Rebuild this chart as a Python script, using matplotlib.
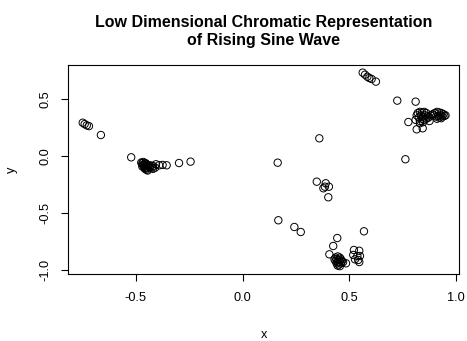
import matplotlib
matplotlib.use("Agg")
import matplotlib.pyplot as plt
import numpy as np

plt.rcParams['font.family'] = ['Liberation Sans', 'DejaVu Sans']

# Points (x, y)
x_vals = [
    # upper-left group
    -0.749, -0.740, -0.730, -0.720, -0.664,
    # left cluster outliers
    -0.522,
    # left dense cluster
    -0.475, -0.470, -0.465, -0.460, -0.455, -0.450, -0.468, -0.460, -0.452, -0.445,
    -0.440, -0.470, -0.462, -0.455, -0.448, -0.458, -0.450, -0.445, -0.435, -0.430,
    -0.425, -0.420,
    # left trail
    -0.406, -0.391, -0.375, -0.356, -0.410, -0.420, -0.298, -0.244,
    # top group
    0.562, 0.573, 0.584, 0.593, 0.604, 0.624,
    # right scattered
    0.724, 0.810, 0.776, 0.815, 0.843,
    # right dense cluster 1
    0.820, 0.830, 0.840, 0.850, 0.860, 0.835, 0.845, 0.855, 0.865, 0.825, 0.840,
    0.850, 0.860, 0.870, 0.830, 0.845, 0.875, 0.880, 0.815, 0.810, 0.830,
    # right dense cluster 2
    0.900, 0.910, 0.920, 0.930, 0.940, 0.945, 0.935, 0.925, 0.915, 0.905, 0.895,
    0.920, 0.930, 0.910, 0.890, 0.950,
    # middle scattered
    0.359, 0.164, 0.762,
    # middle small cluster
    0.347, 0.389, 0.404, 0.378, 0.385, 0.401,
    # lower scattered
    0.167, 0.242, 0.272, 0.568, 0.443, 0.424, 0.406, 0.484,
    # bottom right sub-cluster
    0.521, 0.546, 0.518, 0.537, 0.549, 0.526, 0.541, 0.546,
    # bottom dense cluster
    0.435, 0.445, 0.455, 0.440, 0.450, 0.460, 0.435, 0.445, 0.455, 0.465, 0.440,
    0.450, 0.460, 0.445, 0.455, 0.470, 0.430,
]
y_vals = [
    0.295, 0.283, 0.272, 0.265, 0.187,
    -0.009,
    -0.055, -0.060, -0.050, -0.065, -0.060, -0.070, -0.075, -0.080, -0.085, -0.075,
    -0.090, -0.090, -0.095, -0.100, -0.105, -0.110, -0.118, -0.125, -0.095, -0.080,
    -0.100, -0.085,
    -0.070, -0.079, -0.076, -0.079, -0.100, -0.110, -0.059, -0.047,
    0.735, 0.717, 0.699, 0.688, 0.679, 0.656,
    0.489, 0.480, 0.301, 0.237, 0.246,
    0.380, 0.390, 0.385, 0.390, 0.380, 0.360, 0.350, 0.360, 0.350, 0.340, 0.330,
    0.320, 0.330, 0.340, 0.310, 0.300, 0.310, 0.360, 0.360, 0.320, 0.290,
    0.380, 0.390, 0.385, 0.380, 0.370, 0.355, 0.350, 0.360, 0.355, 0.350, 0.360,
    0.340, 0.335, 0.330, 0.370, 0.360,
    0.158, -0.056, -0.026,
    -0.223, -0.237, -0.267, -0.281, -0.267, -0.360,
    -0.562, -0.621, -0.665, -0.659, -0.718, -0.788, -0.861, -0.940,
    -0.823, -0.830, -0.867, -0.876, -0.876, -0.905, -0.911, -0.929,
    -0.890, -0.880, -0.890, -0.905, -0.910, -0.905, -0.920, -0.930, -0.925, -0.920, -0.940,
    -0.950, -0.940, -0.960, -0.965, -0.930, -0.905,
]

x_ticks = [-0.5, 0.0, 0.5, 1.0]
y_ticks = [-1.0, -0.5, 0.0, 0.5]
title = "Low Dimensional Chromatic Representation\nof Rising Sine Wave"

W, H = 467, 341
fig = plt.figure(figsize=(W / 100, H / 100), dpi=100)
ax = fig.add_axes([68 / W, 1 - 274 / H, (459.3 - 68) / W, (274 - 65) / H])

ax.scatter(x_vals, y_vals, s=28, facecolors='none', edgecolors='black', linewidths=0.7)

ax.set_xlim(-0.818, 1.0145)
ax.set_ylim(-1.034, 0.802)
ax.set_xticks(x_ticks)
ax.set_xticklabels([f"{t:.1f}" for t in x_ticks])
ax.set_yticks(y_ticks)
ax.set_yticklabels([f"{t:.1f}" for t in y_ticks], rotation=90, va='center')

for s in ax.spines.values():
    s.set_linewidth(0.8)
    s.set_color('black')

ax.tick_params(axis='both', direction='out', length=5, width=0.8, labelsize=9.2, colors='black')
ax.tick_params(axis='x', pad=8)
ax.tick_params(axis='y', pad=7)

fig.text(263.7 / W, 1 - 335 / H, "x", ha='center', va='center', fontsize=9.2)
fig.text(12 / W, 1 - 170 / H, "y", ha='center', va='center', fontsize=9.2, rotation=90)
fig.text(263.7 / W, 1 - 32 / H, title, ha='center', va='center', fontsize=11.5,
         fontweight='bold', linespacing=1.25)

fig.savefig("out.png", dpi=100)
